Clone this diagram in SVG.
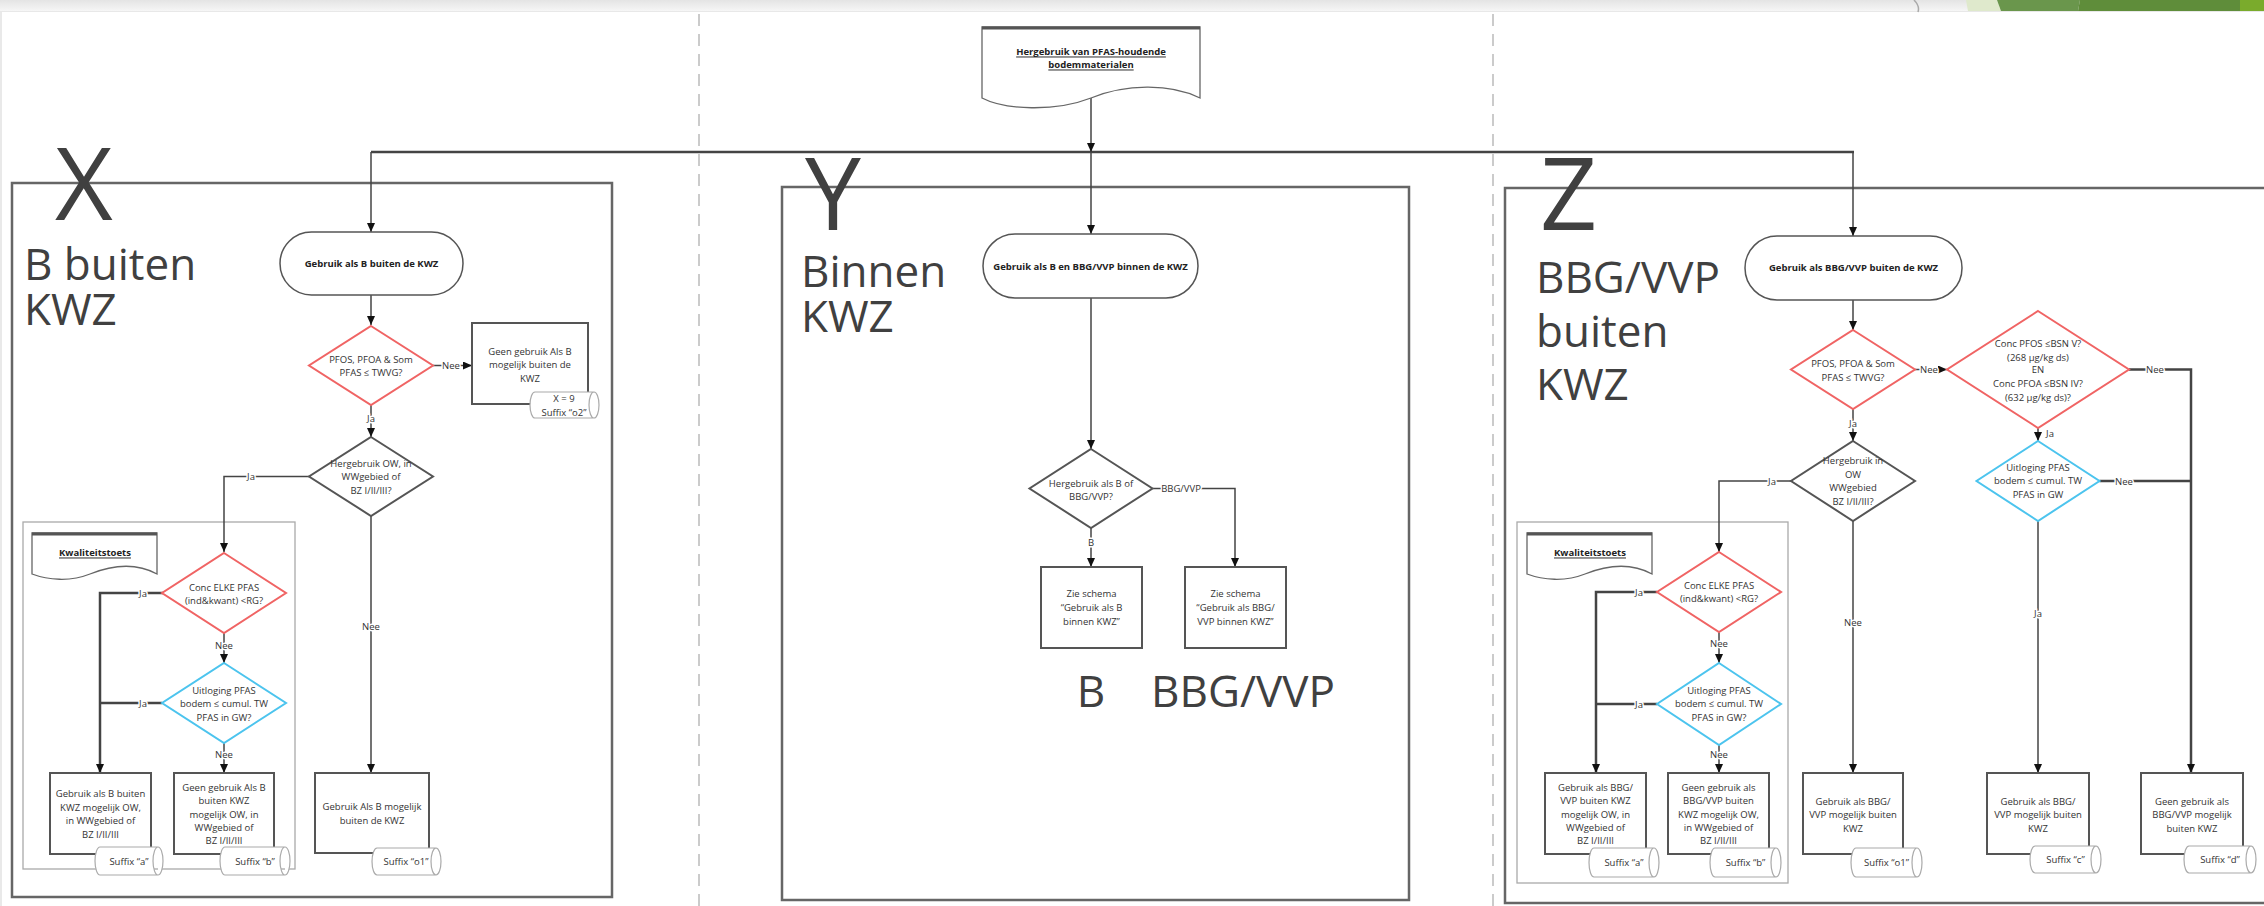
<svg xmlns="http://www.w3.org/2000/svg" width="2264" height="906" viewBox="0 0 2264 906">
<defs>
<linearGradient id="topband" x1="0" y1="0" x2="0" y2="1">
<stop offset="0" stop-color="#e4e4e4"/>
<stop offset="1" stop-color="#f6f6f6"/>
</linearGradient>
<marker id="ah" markerWidth="10" markerHeight="10" refX="9" refY="4" orient="auto" markerUnits="userSpaceOnUse">
<path d="M0,0 L9,4 L0,8 Z" fill="#111"/>
</marker>
<style>
.panel{fill:none;stroke:#666;stroke-width:2.5}
.grp{fill:none;stroke:#aaa;stroke-width:1.3}
.box{fill:#fff;stroke:#555;stroke-width:2}
.term{fill:#fff;stroke:#555;stroke-width:1.5}
.doc{fill:#fff;stroke:#666;stroke-width:1.3}
.doctop{stroke:#555;stroke-width:3}
.dred{fill:#fff;stroke:#f06464;stroke-width:2}
.dblue{fill:#fff;stroke:#4cc4ee;stroke-width:2}
.dgray{fill:#fff;stroke:#555;stroke-width:2}
.store{fill:#fff;stroke:#aaa;stroke-width:1.2}
.conn{fill:none;stroke:#444;stroke-width:1.5}
.connb{fill:none;stroke:#444;stroke-width:2.5}
.dash{stroke:#bbb;stroke-width:1.5;stroke-dasharray:12 8}
.t{font-family:'Open Sans','Noto Sans',sans-serif;font-size:9.5px;fill:#333;text-anchor:middle;dominant-baseline:central}
.tb{font-family:'Open Sans','Noto Sans',sans-serif;font-size:9.5px;font-weight:bold;fill:#222;text-anchor:middle;dominant-baseline:central}
.u{text-decoration:underline}
.lbl{font-family:'Open Sans','Noto Sans',sans-serif;font-size:9.5px;fill:#333;text-anchor:middle;dominant-baseline:central;paint-order:stroke;stroke:#fff;stroke-width:3px}
.huge{font-family:'Open Sans','Noto Sans',sans-serif;font-size:100px;fill:#404040}
.big{font-family:'Open Sans','Noto Sans',sans-serif;font-size:44px;fill:#404040}
</style>
</defs>
<rect width="2264" height="906" fill="#fff"/>
<!-- top decoration -->
<g id="topbar">
<rect x="0" y="0" width="2264" height="11" fill="url(#topband)"/>
<line x1="0" y1="11.5" x2="2264" y2="11.5" stroke="#e8e8e8" stroke-width="1"/>
<path d="M1914,0 Q1920,6 1918,12" fill="none" stroke="#aaa" stroke-width="1.5"/>
<polygon points="1966,0 1997,0 2001,11 1968,11" fill="#dfe9cc"/>
<polygon points="1997,0 2080,0 2078,11 2001,11" fill="#6a964c"/>
<polygon points="2080,0 2240,0 2240,11 2078,11" fill="#5f8d3a"/>
<rect x="2240" y="0" width="24" height="11" fill="#7aab2c"/>
<line x1="1" y1="12" x2="1" y2="906" stroke="#e2e2e2" stroke-width="1.5"/>
</g>
<g id="separators">
<line class="dash" x1="699" y1="14" x2="699" y2="906"/>
<line class="dash" x1="1493" y1="14" x2="1493" y2="906"/>
</g>
<!-- panels -->
<g id="panel-x">
<rect class="panel" x="12" y="183" width="600" height="714"/>
<text class="huge" x="55" y="220">X</text>
<text class="big" x="24" y="280">B buiten</text>
<text class="big" x="24" y="325">KWZ</text>
</g>
<g id="panel-y">
<rect class="panel" x="782" y="187" width="627" height="713"/>
<text class="huge" x="805" y="230">Y</text>
<text class="big" x="801" y="287">Binnen</text>
<text class="big" x="801" y="332">KWZ</text>
<text class="big" x="1091" y="707" text-anchor="middle">B</text>
<text class="big" x="1243" y="707" text-anchor="middle">BBG/VVP</text>
</g>
<g id="panel-z">
<path class="panel" d="M2270,188 H1505 V903 H2270"/>
<text class="huge" x="1540" y="230">Z</text>
<text class="big" x="1536" y="293">BBG/VVP</text>
<text class="big" x="1536" y="347">buiten</text>
<text class="big" x="1536" y="400">KWZ</text>
</g>
<g id="kwal-x">
<rect class="grp" x="23" y="522" width="272" height="347"/>
</g>
<g id="kwal-z">
<rect class="grp" x="1517" y="522" width="271" height="361"/>
</g>
<!-- connectors -->
<g id="connectors">
<line class="connb" x1="371" y1="152" x2="1854" y2="152"/>
<line class="conn" x1="1091" y1="98" x2="1091" y2="152" marker-end="url(#ah)"/>
<!-- X -->
<line class="conn" x1="371" y1="152" x2="371" y2="232" marker-end="url(#ah)"/>
<line class="conn" x1="371" y1="295" x2="371" y2="325" marker-end="url(#ah)"/>
<line class="conn" x1="433" y1="365.5" x2="472" y2="365.5" marker-end="url(#ah)"/>
<line class="conn" x1="371" y1="405" x2="371" y2="437" marker-end="url(#ah)"/>
<polyline class="conn" points="309,476.5 224,476.5 224,552" marker-end="url(#ah)"/>
<line class="conn" x1="371" y1="516" x2="371" y2="773" marker-end="url(#ah)"/>
<polyline class="connb" points="163,593 100,593 100,773" marker-end="url(#ah)"/>
<line class="conn" x1="224" y1="633" x2="224" y2="663" marker-end="url(#ah)"/>
<line class="connb" x1="162" y1="703" x2="100" y2="703"/>
<line class="conn" x1="224" y1="743" x2="224" y2="773" marker-end="url(#ah)"/>
<!-- Y -->
<line class="conn" x1="1091" y1="152" x2="1091" y2="234" marker-end="url(#ah)"/>
<line class="conn" x1="1091" y1="298" x2="1091" y2="449" marker-end="url(#ah)"/>
<polyline class="conn" points="1152.5,488.5 1235,488.5 1235,567" marker-end="url(#ah)"/>
<line class="conn" x1="1091" y1="528" x2="1091" y2="567" marker-end="url(#ah)"/>
<!-- Z -->
<line class="conn" x1="1853" y1="152" x2="1853" y2="236" marker-end="url(#ah)"/>
<line class="conn" x1="1853" y1="300" x2="1853" y2="330" marker-end="url(#ah)"/>
<line class="conn" x1="1915" y1="369.5" x2="1947" y2="369.5" marker-end="url(#ah)"/>
<polyline class="connb" points="2129,369.5 2191,369.5 2191,773" marker-end="url(#ah)"/>
<line class="conn" x1="2038" y1="428" x2="2038" y2="441" marker-end="url(#ah)"/>
<line class="connb" x1="2099.5" y1="481" x2="2191" y2="481"/>
<line class="conn" x1="2038" y1="521" x2="2038" y2="773" marker-end="url(#ah)"/>
<line class="conn" x1="1853" y1="409" x2="1853" y2="441" marker-end="url(#ah)"/>
<polyline class="conn" points="1791,481 1719,481 1719,552" marker-end="url(#ah)"/>
<line class="conn" x1="1853" y1="521" x2="1853" y2="773" marker-end="url(#ah)"/>
<polyline class="connb" points="1657,592 1596,592 1596,773" marker-end="url(#ah)"/>
<line class="conn" x1="1719" y1="632" x2="1719" y2="663" marker-end="url(#ah)"/>
<line class="connb" x1="1657" y1="704" x2="1596" y2="704"/>
<line class="conn" x1="1719" y1="745" x2="1719" y2="773" marker-end="url(#ah)"/>
<!-- labels -->
<text class="lbl" x="451" y="365.5">Nee</text>
<text class="lbl" x="371" y="418">Ja</text>
<text class="lbl" x="251" y="476.5">Ja</text>
<text class="lbl" x="371" y="626">Nee</text>
<text class="lbl" x="143" y="593">Ja</text>
<text class="lbl" x="224" y="645">Nee</text>
<text class="lbl" x="143" y="703">Ja</text>
<text class="lbl" x="224" y="754">Nee</text>
<text class="lbl" x="1181" y="488.5">BBG/VVP</text>
<text class="lbl" x="1091" y="542">B</text>
<text class="lbl" x="1929" y="369.5">Nee</text>
<text class="lbl" x="2155" y="369.5">Nee</text>
<text class="lbl" x="2050" y="433" text-anchor="start">Ja</text>
<text class="lbl" x="2124" y="481">Nee</text>
<text class="lbl" x="2038" y="613">Ja</text>
<text class="lbl" x="1853" y="423">Ja</text>
<text class="lbl" x="1772" y="481">Ja</text>
<text class="lbl" x="1853" y="622">Nee</text>
<text class="lbl" x="1639" y="592">Ja</text>
<text class="lbl" x="1719" y="643">Nee</text>
<text class="lbl" x="1639" y="704">Ja</text>
<text class="lbl" x="1719" y="754">Nee</text>
</g>
<!-- nodes -->
<g id="start-doc">
<path class="doc" d="M982,27 H1200 V98 C1170,83 1125,84 1091,98 C1055,112 1005,110 982,98 Z"/>
<line class="doctop" x1="982" y1="28" x2="1200" y2="28"/>
<text class="tb u" x="1091" y="51">Hergebruik van PFAS-houdende</text>
<text class="tb u" x="1091" y="64">bodemmaterialen</text>
</g>
<g id="x-start">
<rect class="term" x="280" y="232" width="183" height="63" rx="31.5"/>
<text class="tb" x="371.5" y="263.5">Gebruik als B buiten de KWZ</text>
</g>
<g id="x-d1">
<polygon class="dred" points="371,326 433,365.5 371,405 309,365.5"/>
<text class="t" x="371" y="359">PFOS, PFOA &amp; Som</text>
<text class="t" x="371" y="372">PFAS ≤ TWVG?</text>
</g>
<g id="x-o2">
<rect class="box" x="472" y="323" width="116" height="81"/>
<text class="t" x="530" y="351">Geen gebruik Als B</text>
<text class="t" x="530" y="364.5">mogelijk buiten de</text>
<text class="t" x="530" y="378">KWZ</text>
<path class="store" d="M535,392 H594 A5,13 0 0 1 594,418 H535 A5,13 0 0 1 535,392 Z M594,392 A5,13 0 0 0 594,418"/>
<text class="t" x="564" y="398.5">X = 9</text>
<text class="t" x="564" y="412">Suffix “o2”</text>
</g>
<g id="x-d2">
<polygon class="dgray" points="371,437 433,476.5 371,516 309,476.5"/>
<text class="t" x="371" y="463">Hergebruik OW, in</text>
<text class="t" x="371" y="476.5">WWgebied of</text>
<text class="t" x="371" y="490">BZ I/II/III?</text>
</g>
<g id="x-kwal-doc">
<path class="doc" d="M32,533 H157 V574 C135,562 110,566 90,574 C70,582 48,580 32,574 Z"/>
<line class="doctop" x1="32" y1="534" x2="157" y2="534"/>
<text class="tb u" x="95" y="552">Kwaliteitstoets</text>
</g>
<g id="x-d3">
<polygon class="dred" points="224,553 286,593 224,633 162,593"/>
<text class="t" x="224" y="587">Conc ELKE PFAS</text>
<text class="t" x="224" y="600">(ind&amp;kwant) &lt;RG?</text>
</g>
<g id="x-d4">
<polygon class="dblue" points="224,663 286,703 224,743 162,703"/>
<text class="t" x="224" y="690">Uitloging PFAS</text>
<text class="t" x="224" y="703">bodem ≤ cumul. TW</text>
<text class="t" x="224" y="717">PFAS in GW?</text>
</g>
<g id="x-a">
<rect class="box" x="50" y="773" width="101" height="81"/>
<text class="t" x="100.5" y="793">Gebruik als B buiten</text>
<text class="t" x="100.5" y="807">KWZ mogelijk OW,</text>
<text class="t" x="100.5" y="820">in WWgebied of</text>
<text class="t" x="100.5" y="834">BZ I/II/III</text>
<path class="store" d="M100,847 H158 A5,14 0 0 1 158,875 H100 A5,14 0 0 1 100,847 Z M158,847 A5,14 0 0 0 158,875"/>
<text class="t" x="129" y="861">Suffix “a”</text>
</g>
<g id="x-b">
<rect class="box" x="174" y="773" width="100" height="81"/>
<text class="t" x="224" y="787">Geen gebruik Als B</text>
<text class="t" x="224" y="800">buiten KWZ</text>
<text class="t" x="224" y="814">mogelijk OW, in</text>
<text class="t" x="224" y="827">WWgebied of</text>
<text class="t" x="224" y="840">BZ I/II/III</text>
<path class="store" d="M225,847 H285 A5,14 0 0 1 285,875 H225 A5,14 0 0 1 225,847 Z M285,847 A5,14 0 0 0 285,875"/>
<text class="t" x="255" y="861">Suffix “b”</text>
</g>
<g id="x-o1">
<rect class="box" x="315" y="773" width="114" height="80"/>
<text class="t" x="372" y="806">Gebruik Als B mogelijk</text>
<text class="t" x="372" y="820">buiten de KWZ</text>
<path class="store" d="M377,848 H436 A5,13.5 0 0 1 436,875 H377 A5,13.5 0 0 1 377,848 Z M436,848 A5,13.5 0 0 0 436,875"/>
<text class="t" x="406" y="861.5">Suffix “o1”</text>
</g>
<g id="y-start">
<rect class="term" x="983" y="234" width="215" height="64" rx="32"/>
<text class="tb" x="1090.5" y="266">Gebruik als B en BBG/VVP binnen de KWZ</text>
</g>
<g id="y-d">
<polygon class="dgray" points="1091,449 1152.5,488.5 1091,528 1029.5,488.5"/>
<text class="t" x="1091" y="483">Hergebruik als B of</text>
<text class="t" x="1091" y="496">BBG/VVP?</text>
</g>
<g id="y-b">
<rect class="box" x="1041" y="567" width="101" height="81"/>
<text class="t" x="1091.5" y="593">Zie schema</text>
<text class="t" x="1091.5" y="607">“Gebruik als B</text>
<text class="t" x="1091.5" y="621">binnen KWZ”</text>
</g>
<g id="y-bbg">
<rect class="box" x="1185" y="567" width="101" height="81"/>
<text class="t" x="1235.5" y="593">Zie schema</text>
<text class="t" x="1235.5" y="607">“Gebruik als BBG/</text>
<text class="t" x="1235.5" y="621">VVP binnen KWZ”</text>
</g>
<g id="z-start">
<rect class="term" x="1745" y="236" width="217" height="64" rx="32"/>
<text class="tb" x="1853.5" y="267">Gebruik als BBG/VVP buiten de KWZ</text>
</g>
<g id="z-d1">
<polygon class="dred" points="1853,330 1915,369.5 1853,409 1791,369.5"/>
<text class="t" x="1853" y="363">PFOS, PFOA &amp; Som</text>
<text class="t" x="1853" y="377">PFAS ≤ TWVG?</text>
</g>
<g id="z-d2">
<polygon class="dred" points="2038,311 2129,369.5 2038,428 1947,369.5"/>
<text class="t" x="2038" y="343">Conc PFOS ≤BSN V?</text>
<text class="t" x="2038" y="357">(268 µg/kg ds)</text>
<text class="t" x="2038" y="369.5">EN</text>
<text class="t" x="2038" y="383">Conc PFOA ≤BSN IV?</text>
<text class="t" x="2038" y="397">(632 µg/kg ds)?</text>
</g>
<g id="z-d3">
<polygon class="dblue" points="2038,441 2099.5,481 2038,521 1976.5,481"/>
<text class="t" x="2038" y="467">Uitloging PFAS</text>
<text class="t" x="2038" y="480.5">bodem ≤ cumul. TW</text>
<text class="t" x="2038" y="494">PFAS in GW</text>
</g>
<g id="z-d4">
<polygon class="dgray" points="1853,441 1915,481 1853,521 1791,481"/>
<text class="t" x="1853" y="460">Hergebruik in</text>
<text class="t" x="1853" y="474">OW</text>
<text class="t" x="1853" y="487">WWgebied</text>
<text class="t" x="1853" y="501">BZ I/II/III?</text>
</g>
<g id="z-kwal-doc">
<path class="doc" d="M1527,533 H1652 V574 C1630,562 1605,566 1585,574 C1565,582 1543,580 1527,574 Z"/>
<line class="doctop" x1="1527" y1="534" x2="1652" y2="534"/>
<text class="tb u" x="1590" y="552">Kwaliteitstoets</text>
</g>
<g id="z-d5">
<polygon class="dred" points="1719,552 1781,592 1719,632 1657,592"/>
<text class="t" x="1719" y="585">Conc ELKE PFAS</text>
<text class="t" x="1719" y="598">(ind&amp;kwant) &lt;RG?</text>
</g>
<g id="z-d6">
<polygon class="dblue" points="1719,663 1781,704 1719,745 1657,704"/>
<text class="t" x="1719" y="690">Uitloging PFAS</text>
<text class="t" x="1719" y="703">bodem ≤ cumul. TW</text>
<text class="t" x="1719" y="717">PFAS in GW?</text>
</g>
<g id="z-a">
<rect class="box" x="1545" y="773" width="101" height="81"/>
<text class="t" x="1595.5" y="787">Gebruik als BBG/</text>
<text class="t" x="1595.5" y="800">VVP buiten KWZ</text>
<text class="t" x="1595.5" y="814">mogelijk OW, in</text>
<text class="t" x="1595.5" y="827">WWgebied of</text>
<text class="t" x="1595.5" y="840">BZ I/II/III</text>
<path class="store" d="M1594,848 H1654 A5,14.5 0 0 1 1654,877 H1594 A5,14.5 0 0 1 1594,848 Z M1654,848 A5,14.5 0 0 0 1654,877"/>
<text class="t" x="1624" y="862.5">Suffix “a”</text>
</g>
<g id="z-b">
<rect class="box" x="1668" y="773" width="101" height="81"/>
<text class="t" x="1718.5" y="787">Geen gebruik als</text>
<text class="t" x="1718.5" y="800">BBG/VVP buiten</text>
<text class="t" x="1718.5" y="814">KWZ mogelijk OW,</text>
<text class="t" x="1718.5" y="827">in WWgebied of</text>
<text class="t" x="1718.5" y="840">BZ I/II/III</text>
<path class="store" d="M1715,848 H1776 A5,14.5 0 0 1 1776,877 H1715 A5,14.5 0 0 1 1715,848 Z M1776,848 A5,14.5 0 0 0 1776,877"/>
<text class="t" x="1745.5" y="862.5">Suffix “b”</text>
</g>
<g id="z-o1">
<rect class="box" x="1803" y="773" width="100" height="81"/>
<text class="t" x="1853" y="801">Gebruik als BBG/</text>
<text class="t" x="1853" y="814">VVP mogelijk buiten</text>
<text class="t" x="1853" y="828">KWZ</text>
<path class="store" d="M1856,848 H1917 A5,14.5 0 0 1 1917,877 H1856 A5,14.5 0 0 1 1856,848 Z M1917,848 A5,14.5 0 0 0 1917,877"/>
<text class="t" x="1886.5" y="862.5">Suffix “o1”</text>
</g>
<g id="z-c">
<rect class="box" x="1987" y="773" width="102" height="81"/>
<text class="t" x="2038" y="801">Gebruik als BBG/</text>
<text class="t" x="2038" y="814">VVP mogelijk buiten</text>
<text class="t" x="2038" y="828">KWZ</text>
<path class="store" d="M2035,846 H2096 A5,13.5 0 0 1 2096,873 H2035 A5,13.5 0 0 1 2035,846 Z M2096,846 A5,13.5 0 0 0 2096,873"/>
<text class="t" x="2065.5" y="859.5">Suffix “c”</text>
</g>
<g id="z-d">
<rect class="box" x="2141" y="773" width="102" height="81"/>
<text class="t" x="2192" y="801">Geen gebruik als</text>
<text class="t" x="2192" y="814">BBG/VVP mogelijk</text>
<text class="t" x="2192" y="828">buiten KWZ</text>
<path class="store" d="M2189,846 H2251 A5,13.5 0 0 1 2251,873 H2189 A5,13.5 0 0 1 2189,846 Z M2251,846 A5,13.5 0 0 0 2251,873"/>
<text class="t" x="2220" y="859.5">Suffix “d”</text>
</g>
</svg>
